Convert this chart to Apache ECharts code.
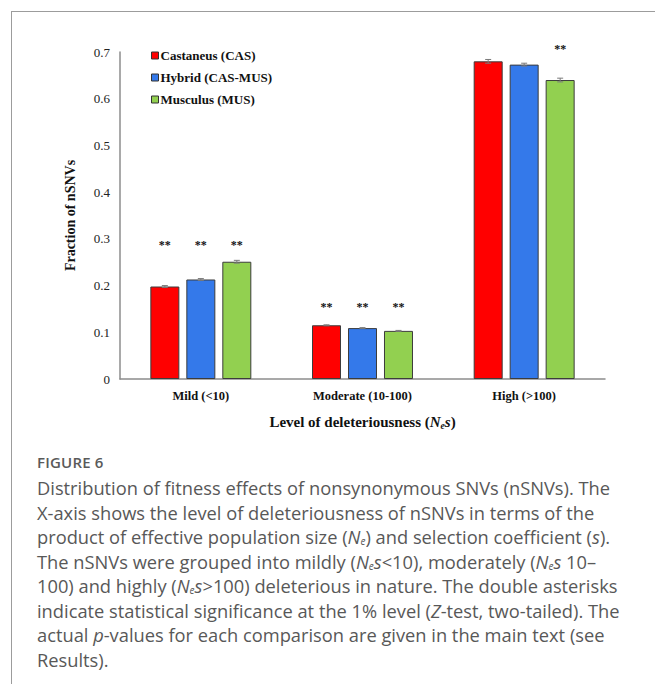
<!DOCTYPE html>
<html>
<head>
<meta charset="utf-8">
<script src="https://cdn.jsdelivr.net/npm/echarts@6/dist/echarts.min.js"></script>
<style>
  html, body { margin: 0; padding: 0; background: #fff; }
  #page { position: relative; width: 655px; height: 684px; overflow: hidden; }
  #frame { position: absolute; left: 11px; top: 11px; right: -2px; bottom: -2px;
           border-top: 1.5px solid #9c9c9c; border-left: 1.5px solid #9c9c9c; }
  #chart { position: absolute; left: 0; top: 0; width: 655px; height: 445px; }
  #caption { position: absolute; left: 37px; top: 450px; width: 615px;
             font-family: "Open Sans", "Lato", sans-serif; color: #585858; }
  #caption .fig { font-size: 15px; font-weight: 600; color: #5a5a5a; letter-spacing: 0.2px; line-height: 24px; }
  #caption .txt { font-size: 18.3px; line-height: 24.5px; margin-top: 2px; white-space: nowrap; }
  #caption sub { font-size: 10px; vertical-align: -1px; line-height: 0; }
</style>
</head>
<body>
<div id="page">
  <div id="frame"></div>
  <div id="chart"></div>
  <div id="caption">
    <div class="fig">FIGURE 6</div>
    <div class="txt">
      Distribution of fitness effects of nonsynonymous SNVs (nSNVs). The<br>
      X-axis shows the level of deleteriousness of nSNVs in terms of the<br>
      product of effective population size (<i>N<sub>e</sub></i>) and selection coefficient (<i>s</i>).<br>
      The nSNVs were grouped into mildly (<i>N<sub>e</sub>s</i>&lt;10), moderately (<i>N<sub>e</sub>s</i> 10–<br>
      100) and highly (<i>N<sub>e</sub>s</i>&gt;100) deleterious in nature. The double asterisks<br>
      indicate statistical significance at the 1% level (<i>Z</i>-test, two-tailed). The<br>
      actual <i>p</i>-values for each comparison are given in the main text (see<br>
      Results).
    </div>
  </div>
</div>
<script>
// Deleteriousness classes (N_e s)
const categories = ['Mild (<10)', 'Moderate (10-100)', 'High (>100)'];

// Fraction of nSNVs per class
const castaneus = [0.198, 0.115, 0.680];
const hybrid    = [0.213, 0.109, 0.673];
const musculus  = [0.251, 0.103, 0.640];

// Standard errors
const castaneusErr = [0.002, 0.001, 0.004];
const hybridErr    = [0.002, 0.001, 0.003];
const musculusErr  = [0.003, 0.001, 0.004];

// Significance marks ("**") per bar, and the height where each group's marks sit
const castaneusSig = [true, true, false];
const hybridSig    = [true, true, false];
const musculusSig  = [true, true, true];
const sigLevel     = [0.287, 0.155, 0.707];

const yTicks = [0, 0.1, 0.2, 0.3, 0.4, 0.5, 0.6, 0.7];

const SERIF = '"Liberation Serif", "Times New Roman", serif';
const BAR_WIDTH = 29;
const BAR_SPACE = 7;

const groups = [
  { name: 'Castaneus (CAS)',   color: '#ff0000', values: castaneus, err: castaneusErr, sig: castaneusSig },
  { name: 'Hybrid (CAS-MUS)',  color: '#3479ea', values: hybrid,    err: hybridErr,    sig: hybridSig },
  { name: 'Musculus (MUS)',    color: '#92d050', values: musculus,  err: musculusErr,  sig: musculusSig }
];

const chart = echarts.init(document.getElementById('chart'), null, { renderer: 'svg' });

const barSeries = groups.map(g => ({
  name: g.name,
  type: 'bar',
  data: g.values,
  barWidth: BAR_WIDTH,
  barGap: (BAR_SPACE / BAR_WIDTH * 100).toFixed(1) + '%',
  itemStyle: { color: g.color, borderColor: '#3c3c3c', borderWidth: 1 },
  emphasis: { disabled: true },
  z: 2
}));

// Error bars and significance marks, shifted to sit over their own bar
const overlaySeries = groups.map((g, si) => ({
  type: 'custom',
  name: g.name + ' err',
  z: 5,
  clip: false,
  silent: true,
  data: g.values.map((v, i) => [i, v, g.err[i], g.sig[i] ? 1 : 0]),
  encode: { x: 0, y: 1 },
  renderItem: function (params, api) {
    const i = api.value(0);
    const v = api.value(1);
    const e = api.value(2);
    const shift = (si - 1) * (BAR_WIDTH + BAR_SPACE);
    const hi = api.coord([i, v + e]);
    const lo = api.coord([i, v - e]);
    const x = hi[0] + shift;
    const cap = 3;
    const ls = { stroke: '#7a7a7a', lineWidth: 1 };
    const children = [
      { type: 'line', shape: { x1: x, y1: hi[1], x2: x, y2: lo[1] }, style: ls },
      { type: 'line', shape: { x1: x - cap, y1: hi[1], x2: x + cap, y2: hi[1] }, style: ls },
      { type: 'line', shape: { x1: x - cap, y1: lo[1], x2: x + cap, y2: lo[1] }, style: ls }
    ];
    if (api.value(3)) {
      const p = api.coord([i, sigLevel[i]]);
      children.push({
        type: 'text',
        style: {
          x: p[0] + shift, y: p[1], text: '**',
          align: 'center', verticalAlign: 'middle',
          font: 'bold 12px ' + SERIF, fill: '#111'
        }
      });
    }
    return { type: 'group', children: children };
  }
}));

chart.setOption({
  animation: false,
  grid: { left: 120, right: 50, top: 52, bottom: 445 - 379 },
  legend: {
    data: groups.map(g => g.name),
    orient: 'vertical',
    left: 146, top: 44,
    itemWidth: 7, itemHeight: 7, itemGap: 9,
    icon: 'rect',
    itemStyle: { borderColor: '#333', borderWidth: 1 },
    textStyle: { fontFamily: SERIF, fontWeight: 'bold', fontSize: 13, color: '#111', padding: [0, 0, 0, -3] },
    selectedMode: false
  },
  xAxis: {
    type: 'category',
    data: categories,
    axisLine: { lineStyle: { color: '#8c8c8c', width: 1.5 } },
    axisTick: { show: false },
    axisLabel: { fontFamily: SERIF, fontWeight: 'bold', fontSize: 12.5, color: '#111', margin: 10 },
    name: 'Level of deleteriousness ({i|N}{sub|e}{i|s})',
    nameLocation: 'middle',
    nameGap: 33,
    nameTextStyle: {
      fontFamily: SERIF, fontWeight: 'bold', fontSize: 15, color: '#111', lineHeight: 19,
      rich: {
        i:   { fontFamily: SERIF, fontWeight: 'bold', fontStyle: 'italic', fontSize: 15, color: '#111', lineHeight: 19 },
        sub: { fontFamily: SERIF, fontWeight: 'bold', fontStyle: 'italic', fontSize: 9.5, color: '#111', lineHeight: 9, verticalAlign: 'bottom' }
      }
    }
  },
  yAxis: {
    type: 'value',
    min: yTicks[0], max: yTicks[yTicks.length - 1], interval: 0.1,
    axisLine: { show: true, lineStyle: { color: '#8c8c8c', width: 1.5 } },
    axisTick: { show: false },
    splitLine: { show: false },
    axisLabel: {
      fontFamily: SERIF, fontSize: 13, color: '#222', margin: 10,
      formatter: v => (v === 0 ? '0' : v.toFixed(1))
    },
    name: 'Fraction of nSNVs',
    nameLocation: 'middle',
    nameGap: 43,
    nameRotate: 90,
    nameTextStyle: { fontFamily: SERIF, fontWeight: 'bold', fontSize: 14, color: '#111' }
  },
  series: barSeries.concat(overlaySeries)
});
</script>
</body>
</html>
